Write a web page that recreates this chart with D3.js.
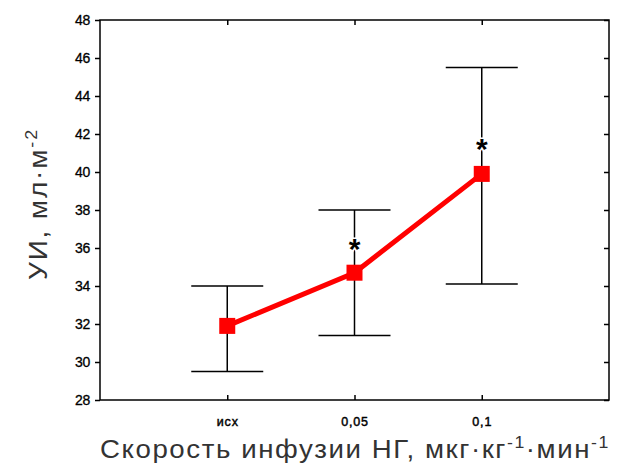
<!DOCTYPE html>
<html>
<head>
<meta charset="utf-8">
<script src="https://cdn.jsdelivr.net/npm/d3@7"></script>
<style>
  body { margin: 0; background: #fff; }
  svg { display: block; font-family: "Liberation Sans", Arial, sans-serif; }
</style>
</head>
<body>
<div id="chart"></div>
<script>
"use strict"

// data
let categories = ["исх", "0,05", "0,1"];
let means = [31.9, 34.7, 39.9];
let upper = [34.0, 38.0, 45.5];
let lower = [29.5, 31.4, 34.1];
let starAt = [null, 36.3, 41.6]; // where the * marks sit, null = none
let yTicks = [28, 30, 32, 34, 36, 38, 40, 42, 44, 46, 48];

let width = 625, height = 469;
let plotLeft = 100, plotRight = 609, plotTop = 20, plotBottom = 400;

let svg = d3.select("#chart").append("svg")
    .attr("width", width)
    .attr("height", height);

// categories sit at 1,2,3 on a 0..4 scale
let x = d3.scaleLinear().domain([0, 4]).range([plotLeft, plotRight]);
let y = d3.scaleLinear().domain([28, 48]).range([plotBottom, plotTop]);

// frame
svg.append("rect")
    .attr("x", plotLeft).attr("y", plotTop)
    .attr("width", plotRight - plotLeft).attr("height", plotBottom - plotTop)
    .attr("fill", "none").attr("stroke", "#000").attr("stroke-width", 1.5);

// left axis, ticks outward
let yAxis = svg.append("g")
    .attr("transform", "translate(" + plotLeft + ",0)")
    .call(d3.axisLeft(y).tickValues(yTicks).tickSize(5).tickPadding(5));
yAxis.select(".domain").remove();
yAxis.selectAll("line").attr("stroke-width", 1.5);
yAxis.selectAll("text")
    .attr("font-size", 14)
    .attr("letter-spacing", -0.3)
    .attr("font-family", "Liberation Sans, Arial")
    .attr("stroke", "#000").attr("stroke-width", 0.3)
    .attr("fill", "#000");

// right axis, ticks inward
let yAxisR = svg.append("g")
    .attr("transform", "translate(" + plotRight + ",0)")
    .call(d3.axisLeft(y).tickValues(yTicks).tickSize(5).tickFormat(""));
yAxisR.select(".domain").remove();
yAxisR.selectAll("line").attr("stroke-width", 1.5);

// bottom axis, ticks inward
let xAxis = svg.append("g")
    .attr("transform", "translate(0," + plotBottom + ")")
    .call(d3.axisBottom(x).tickValues([1, 2, 3]).tickSize(0).tickPadding(17)
        .tickFormat((d) => categories[d - 1]));
xAxis.select(".domain").remove();
xAxis.selectAll(".tick line").attr("y2", -5).attr("stroke", "#000").attr("stroke-width", 1.5);
xAxis.selectAll("text")
    .attr("font-size", 12.5)
    .attr("letter-spacing", 0.8)
    .attr("font-family", "Liberation Sans, Arial")
    .attr("stroke", "#000").attr("stroke-width", 0.45)
    .attr("fill", "#000");

// top ticks, inward
let xAxisT = svg.append("g")
    .attr("transform", "translate(0," + plotTop + ")")
    .call(d3.axisTop(x).tickValues([1, 2, 3]).tickSize(-5).tickFormat(""));
xAxisT.select(".domain").remove();
xAxisT.selectAll("line").attr("stroke-width", 1.5);

// error bars
let bars = svg.append("g");
categories.forEach(function (c, i) {
    let cx = x(i + 1);
    bars.append("line")
        .attr("x1", cx).attr("x2", cx)
        .attr("y1", y(upper[i])).attr("y2", y(lower[i]))
        .attr("stroke", "#000").attr("stroke-width", 1.5);
    [upper[i], lower[i]].forEach(function (v) {
        bars.append("line")
            .attr("x1", cx - 36).attr("x2", cx + 36)
            .attr("y1", y(v)).attr("y2", y(v))
            .attr("stroke", "#000").attr("stroke-width", 1.5);
    });
});

// asterisks with white halo so the bar line breaks behind them
starAt.forEach(function (v, i) {
    if (v == null) return;
    svg.append("text")
        .attr("x", x(i + 1))
        .attr("y", y(v) + 17)
        .attr("text-anchor", "middle")
        .attr("font-size", 30)
        .attr("font-weight", "bold")
        .attr("font-family", "Liberation Sans, Arial")
        .attr("stroke", "#fff").attr("stroke-width", 3)
        .attr("paint-order", "stroke")
        .attr("fill", "#000")
        .text("*");
});

// mean line and markers
let line = d3.line()
    .x((d, i) => x(i + 1))
    .y((d) => y(d));

svg.append("path")
    .datum(means)
    .attr("d", line)
    .attr("fill", "none")
    .attr("stroke", "#f00")
    .attr("stroke-width", 5);

svg.selectAll(".marker")
    .data(means)
    .enter().append("rect")
    .attr("class", "marker")
    .attr("x", (d, i) => x(i + 1) - 8)
    .attr("y", (d) => y(d) - 8)
    .attr("width", 16).attr("height", 16)
    .attr("fill", "#f00");

// widen a title to the given length: half by letter spacing, half by stretching
function fitTitle(sel, target, base) {
    let w = sel.node().getComputedTextLength();
    let n = sel.text().length;
    let mid = (w + target) / 2;
    sel.attr("letter-spacing", (mid - w) / n);
    let w2 = sel.node().getComputedTextLength();
    sel.attr("transform", base + " scale(" + (target / w2) + ",1)");
}

// axis titles
let xTitle = svg.append("text")
    .attr("font-size", 25)
    .attr("font-family", "Liberation Sans, Arial")
    .attr("fill", "#333");
xTitle.append("tspan").text("Скорость инфузии НГ, мкг·кг");
xTitle.append("tspan").attr("dy", -10).attr("font-size", 16).text("-1");
xTitle.append("tspan").attr("dy", 10).text("·мин");
xTitle.append("tspan").attr("dy", -10).attr("font-size", 16).text("-1");
fitTitle(xTitle, 510, "translate(100,458)");

let yTitle = svg.append("text")
    .attr("font-size", 25)
    .attr("font-family", "Liberation Sans, Arial")
    .attr("fill", "#333");
yTitle.append("tspan").text("УИ, мл·м");
yTitle.append("tspan").attr("dy", -10).attr("font-size", 16).text("-2");
fitTitle(yTitle, 152, "translate(47,280) rotate(-90)");
</script>
</body>
</html>
